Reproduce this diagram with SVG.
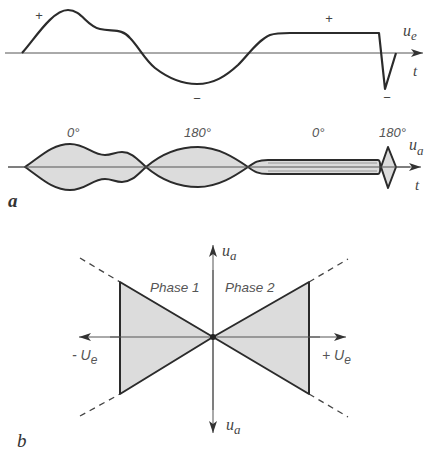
<svg xmlns="http://www.w3.org/2000/svg" width="432" height="450" viewBox="0 0 432 450">
<defs>
<style>
.axis{stroke:#555;stroke-width:1;fill:none}
.curve{stroke:#2b2b2b;stroke-width:2.2;fill:none;stroke-linejoin:round}
.shape{stroke:#2b2b2b;stroke-width:2;fill:#dcdcdc;stroke-linejoin:round}
.dash{stroke:#444;stroke-width:1.3;stroke-dasharray:6,5;fill:none}
.var{font-family:"Liberation Serif",serif;font-style:italic;fill:#444}
.lbl{font-family:"Liberation Sans",sans-serif;font-style:italic;fill:#555}
.sign{font-family:"Liberation Sans",sans-serif;fill:#444;text-anchor:middle}
</style>
<marker id="arr" viewBox="0 0 12 8" refX="12" refY="4" markerWidth="12" markerHeight="8" markerUnits="userSpaceOnUse" orient="auto">
<path d="M0,0 L12,4 L0,8 L3,4 Z" fill="#333"/>
</marker>
</defs>
<rect width="432" height="450" fill="#fff"/>

<g id="connectors">
<line class="axis" x1="5" y1="53" x2="423" y2="53" marker-end="url(#arr)"/>
<line class="axis" x1="8" y1="167" x2="421" y2="167" marker-end="url(#arr)"/>
<line class="axis" x1="213" y1="337" x2="213" y2="245" marker-end="url(#arr)"/>
<line class="axis" x1="213" y1="337" x2="213" y2="433" marker-end="url(#arr)"/>
<line class="axis" x1="213" y1="337" x2="79" y2="337" marker-end="url(#arr)"/>
<line class="axis" x1="213" y1="337" x2="346" y2="337" marker-end="url(#arr)"/>
<path class="dash" d="M80,258 L120,282 M80,416 L120,394 M309,282 L348,259 M309,394 L348,417"/>
</g>

<g id="input-signal">
<path class="curve" d="M22,53 C34,40 52,10 68,10 C82,10 86,26 100,29 C112,32 122,28 130,38 C138,46 145,60 155,68 C168,78 182,84 197,84 C214,84 226,76 238,65 C248,55 258,40 270,35 C276,33 280,33 290,33 L379,33 L385,89 L396,53"/>
<text class="sign" x="39" y="20" font-size="13">+</text>
<text class="sign" x="329" y="23" font-size="13">+</text>
<text class="sign" x="197" y="103" font-size="13">−</text>
<text class="sign" x="387" y="102" font-size="13">−</text>
<text class="var" x="403" y="36" font-size="16">u<tspan font-size="13" dy="4">e</tspan></text>
<text class="var" x="413" y="76" font-size="15">t</text>
</g>

<g id="output-signal">
<path class="shape" d="M25,167 C40,157 52,144 70,144 C86,144 92,155 105,155 C112,155 115,152 122,152 C132,152 138,160 146,167 C138,174 132,182 122,182 C115,182 112,179 105,179 C92,179 86,190 70,190 C52,190 40,177 25,167 Z"/>
<path class="shape" d="M146,167 C160,155 178,147 198,147 C218,147 235,158 248,167 C235,176 218,187 198,187 C178,187 160,179 146,167 Z"/>
<path class="shape" d="M248,167 C255,162 258,160 268,160 L378,160 C381,160 381,174 378,174 L268,174 C258,174 255,172 248,167 Z"/>
<path d="M268,163 L377,163 M268,171 L377,171" stroke="#888" stroke-width="0.8" fill="none"/>
<path class="shape" d="M381,167 L388,147 L396,167 L388,188 Z" fill="#eee"/>
<line class="axis" x1="8" y1="167" x2="410" y2="167"/>
<text class="lbl" x="67" y="137" font-size="13">0°</text>
<text class="lbl" x="184" y="137" font-size="13">180°</text>
<text class="lbl" x="312" y="137" font-size="13">0°</text>
<text class="lbl" x="379" y="137" font-size="13">180°</text>
<text class="var" x="409" y="150" font-size="16">u<tspan font-size="13" dy="5">a</tspan></text>
<text class="var" x="415" y="190" font-size="15">t</text>
<text x="8" y="207" font-family="Liberation Serif,serif" font-style="italic" font-weight="bold" font-size="19" fill="#333">a</text>
</g>

<g id="phase1">
<path class="shape" d="M213,337 L120,282 L120,394 Z"/>
<text class="lbl" x="150" y="292" font-size="13.5">Phase 1</text>
</g>
<g id="phase2">
<path class="shape" d="M213,337 L309,282 L309,394 Z"/>
<text class="lbl" x="225" y="292" font-size="13.5">Phase 2</text>
</g>

<g id="axes-b">
<line class="axis" x1="110" y1="337" x2="320" y2="337"/>
<line class="axis" x1="213" y1="270" x2="213" y2="410"/>
<circle cx="213" cy="337" r="3" fill="#222"/>
<text class="var" x="222" y="256" font-size="16">u<tspan font-size="13" dy="4">a</tspan></text>
<text class="var" x="226" y="430" font-size="16">u<tspan font-size="13" dy="4">a</tspan></text>
<text class="lbl" x="72" y="360" font-size="14">- U<tspan font-size="12" dy="4">e</tspan></text>
<text class="lbl" x="322" y="360" font-size="14">+ U<tspan font-size="12" dy="4">e</tspan></text>
<text x="17" y="447" font-family="Liberation Serif,serif" font-style="italic" font-size="19" fill="#333">b</text>
</g>
</svg>
